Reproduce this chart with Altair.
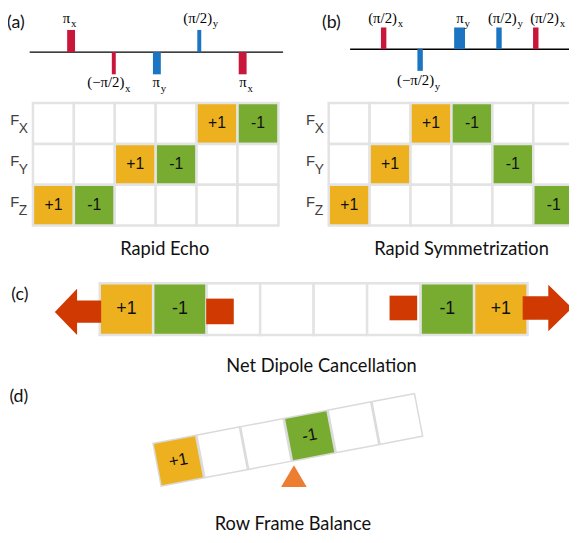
import altair as alt
import pandas as pd

# ---------------- values ----------------
row_names = ["X", "Y", "Z"]

echo_FX = [0, 0, 0, 0, 1, -1]
echo_FY = [0, 0, 1, -1, 0, 0]
echo_FZ = [1, -1, 0, 0, 0, 0]

sym_FX = [0, 0, 1, -1, 0, 0]
sym_FY = [0, 1, 0, 0, -1, 0]
sym_FZ = [1, 0, 0, 0, 0, -1]

dipole_cells = [1, -1, 0, 0, 0, 0, -1, 1]
balance_cells = [1, 0, 0, -1, 0, 0]

# pulse sequences: time position, rotation, axis, side of the line
seqA_time = [72, 115.3, 159, 202, 246]
seqA_angle = ["π", "(−π/2)", "π", "(π/2)", "π"]
seqA_axis = ["x", "x", "y", "y", "x"]
seqA_side = [1, -1, -1, 1, -1]

seqB_time = [389, 426, 466, 506, 543.3]
seqB_angle = ["(π/2)", "(−π/2)", "π", "(π/2)", "(π/2)"]
seqB_axis = ["x", "y", "y", "y", "x"]
seqB_side = [1, -1, 1, 1, 1]

panel_tags = ["(a)", "(b)", "(c)", "(d)"]
panel_titles = ["Rapid Echo", "Rapid Symmetrization",
                "Net Dipole Cancellation", "Row Frame Balance"]

# ---------------- layout & style ----------------
W, H = 569, 527
XS = alt.Scale(domain=[8, 8 + W], nice=False, zero=False)
YS = alt.Scale(domain=[8, 8 + H], nice=False, zero=False, reverse=True)

YELLOW = "#EDB120"
GREEN = "#77AC30"
GRID = "#E3E3E3"
RED_P = "#C8173A"
BLUE_P = "#1B75C2"
ARROW = "#D03A02"
TRI = "#ED7D31"

KIND = {1: "pos", -1: "neg", 0: "empty"}
LABEL = {1: "+1", -1: "-1", 0: ""}
FILL = alt.Scale(domain=["pos", "neg", "empty"], range=[YELLOW, GREEN, "#FFFFFF"])
FILL_D = alt.Scale(domain=["pos", "neg", "empty"], range=[YELLOW, GREEN, "#FCFCFC"])


def X(f):
    return alt.X(f + ":Q", scale=XS, axis=None)


def Y(f):
    return alt.Y(f + ":Q", scale=YS, axis=None)


MAIN_W = {"π": 8.3, "(π/2)": 29.9, "(−π/2)": 38.4}
SUB_W = 5.5


def seq_frames(times, angles, axes, sides, base, height, widths, nudges, top_base, bot_base):
    rects, mains, subs = [], [], []
    for t, a, ax, s, nd in zip(times, angles, axes, sides, nudges):
        w = widths["pi" if a == "π" else "half"]
        rects.append(dict(x=t - w / 2, x2=t + w / 2, y=base, y2=base - s * height, axis=ax))
        wm = MAIN_W[a]
        c = t + nd
        left = c - (wm + SUB_W) / 2
        yb = top_base if s > 0 else bot_base
        mains.append(dict(x=left, y=yb, text=a))
        subs.append(dict(x=left + wm, y=yb + 4.5, text=ax))
    return rects, mains, subs


A_BASE, B_BASE = 49, 46
rA, mA, sA = seq_frames(seqA_time, seqA_angle, seqA_axis, seqA_side, A_BASE, 22.5,
                        {"pi": 8, "half": 4}, [-1.5, -5, 2.5, 1.5, 3.5], 19.5, 84.5)
rB, mB, sB = seq_frames(seqB_time, seqB_angle, seqB_axis, seqB_side, B_BASE, 22,
                        {"pi": 11, "half": 5.5}, [2, -1.5, 3.5, 6.5, 12], 19, 82.5)
pulses = pd.DataFrame(rA + rB)
p_main = pd.DataFrame(mA + mB)
p_sub = pd.DataFrame(sA + sB)
baselines = pd.DataFrame([dict(x=30, x2=287, y=A_BASE), dict(x=355, x2=580, y=B_BASE)])


def grid_frame(rows_vals, x0, y0, p, rp):
    recs = []
    for i, vals in enumerate(rows_vals):
        for j, v in enumerate(vals):
            recs.append(dict(x=x0 + j * p, x2=x0 + (j + 1) * p,
                             y=y0 + i * rp, y2=y0 + (i + 1) * rp,
                             cx=x0 + (j + 0.5) * p, cy=y0 + (i + 0.5) * rp,
                             kind=KIND[v], label=LABEL[v]))
    return recs


GA_X0, GB_X0, GP, GY0, GRP = 33.3, 333.3, 41.5, 100.7, 41.4
cells = pd.DataFrame(
    grid_frame([echo_FX, echo_FY, echo_FZ], GA_X0, GY0, GP, GRP)
    + grid_frame([sym_FX, sym_FY, sym_FZ], GB_X0, GY0, GP, GRP))

row_lab = []
for x0 in (GA_X0, GB_X0):
    for i, r in enumerate(row_names):
        cy = GY0 + (i + 0.5) * GRP
        row_lab.append(dict(x=x0 - 23, y=cy - 3, text="F", size=15))
        row_lab.append(dict(x=x0 - 14.3, y=cy + 5.5, text=r, size=14))
row_lab = pd.DataFrame(row_lab)

# (c) single row
C_X0, C_P, C_Y0, C_Y1 = 101, 54.25, 283.5, 336
cells_c = pd.DataFrame([dict(x=C_X0 + j * C_P, x2=C_X0 + (j + 1) * C_P, y=C_Y0, y2=C_Y1,
                             cx=C_X0 + (j + 0.5) * C_P, cy=(C_Y0 + C_Y1) / 2,
                             kind=KIND[v], label=LABEL[v]) for j, v in enumerate(dipole_cells)])
dipole_blocks = pd.DataFrame([dict(x=209, x2=237, y=299, y2=325),
                              dict(x=395, x2=423, y=296, y2=321)])
LEFT_ARROW = "M-1,0L-0.04,-1L-0.04,-0.49L1,-0.49L1,0.47L-0.04,0.47L-0.04,1Z"
RIGHT_ARROW = "M1,0L0.04,-0.94L0.04,-0.48L-1,-0.48L-1,0.48L0.04,0.48L0.04,0.94Z"
arrow_l = pd.DataFrame([dict(x=79, y=312.5)])
arrow_r = pd.DataFrame([dict(x=555, y=308.5)])

# (d) tilted row
D_CX, D_CY, D_DX, D_DY, D_ANG = 180.8, 463.4, 44.4, -8.47, 349.2
cells_d = pd.DataFrame([dict(cx=D_CX + j * D_DX, cy=D_CY + j * D_DY,
                             kind=KIND[v], label=LABEL[v]) for j, v in enumerate(balance_cells)])
fulcrum = pd.DataFrame([dict(x=298, y=479)])
TRI_PATH = "M0,-0.85L1,0.85L-1,0.85Z"

tags = pd.DataFrame(dict(x=[16, 336, 20, 19], y=[20, 20, 295.5, 399], text=panel_tags))
titles = pd.DataFrame(dict(x=[167, 468, 326, 297], y=[249, 249, 367, 528], text=panel_titles))

# ---------------- layers ----------------
layers = []
layers.append(alt.Chart(baselines).mark_rule(color="black", strokeWidth=1.5).encode(
    x=X("x"), x2="x2", y=Y("y")))
layers.append(alt.Chart(pulses).mark_rect().encode(
    x=X("x"), x2="x2", y=Y("y"), y2="y2",
    color=alt.Color("axis:N", scale=alt.Scale(domain=["x", "y"], range=[RED_P, BLUE_P]), legend=None)))
layers.append(alt.Chart(p_main).mark_text(align="left", baseline="alphabetic",
                                          font="Liberation Serif", fontSize=15, color="black").encode(
    x=X("x"), y=Y("y"), text="text:N"))
layers.append(alt.Chart(p_sub).mark_text(align="left", baseline="alphabetic",
                                         font="Liberation Serif", fontSize=11, color="black").encode(
    x=X("x"), y=Y("y"), text="text:N"))

for df in (cells, cells_c):
    layers.append(alt.Chart(df).mark_rect(stroke=GRID, strokeWidth=2.5).encode(
        x=X("x"), x2="x2", y=Y("y"), y2="y2",
        fill=alt.Fill("kind:N", scale=FILL, legend=None)))
layers.append(alt.Chart(cells).transform_filter("datum.label != ''").mark_text(
    font="Liberation Sans", fontSize=16, color="#111111", baseline="middle").encode(
    x=X("cx"), y=Y("cy"), text="label:N"))
layers.append(alt.Chart(cells_c).transform_filter("datum.label != ''").mark_text(
    font="Liberation Sans", fontSize=18, color="#111111", baseline="middle").encode(
    x=X("cx"), y=Y("cy"), text="label:N"))
layers.append(alt.Chart(row_lab).mark_text(align="left", baseline="middle",
                                           font="Liberation Sans", color="#404040").encode(
    x=X("x"), y=Y("y"), text="text:N", size=alt.Size("size:Q", scale=None)))

layers.append(alt.Chart(dipole_blocks).mark_rect(color=ARROW).encode(
    x=X("x"), x2="x2", y=Y("y"), y2="y2"))
layers.append(alt.Chart(arrow_l).mark_point(shape=LEFT_ARROW, size=47 * 47, filled=True,
                                            color=ARROW, opacity=1).encode(x=X("x"), y=Y("y")))
layers.append(alt.Chart(arrow_r).mark_point(shape=RIGHT_ARROW, size=50 * 50, filled=True,
                                            color=ARROW, opacity=1).encode(x=X("x"), y=Y("y")))

layers.append(alt.Chart(cells_d).mark_point(shape="square", size=44 * 44, filled=True, opacity=1,
                                            angle=D_ANG, stroke="#DADADA", strokeWidth=1.5).encode(
    x=X("cx"), y=Y("cy"), fill=alt.Fill("kind:N", scale=FILL_D, legend=None)))
layers.append(alt.Chart(cells_d).transform_filter("datum.label != ''").mark_text(
    font="Liberation Sans", fontSize=17, color="#111111", baseline="middle", angle=D_ANG).encode(
    x=X("cx"), y=Y("cy"), text="label:N"))
layers.append(alt.Chart(fulcrum).mark_point(shape=TRI_PATH, size=26 * 26, filled=True,
                                            color=TRI, opacity=1).encode(x=X("x"), y=Y("y")))

layers.append(alt.Chart(tags).mark_text(font="Lato", fontSize=18, color="#111111",
                                        baseline="middle").encode(x=X("x"), y=Y("y"), text="text:N"))
layers.append(alt.Chart(titles).mark_text(font="Lato", fontSize=18.5, color="#111111",
                                          baseline="middle").encode(x=X("x"), y=Y("y"), text="text:N"))

chart = alt.layer(*layers).properties(
    width=W, height=H, padding=0, autosize=alt.AutoSizeParams(type="none")
).configure_view(stroke="transparent")

chart.save("out.html", embed_options={"renderer": "svg", "actions": False})
